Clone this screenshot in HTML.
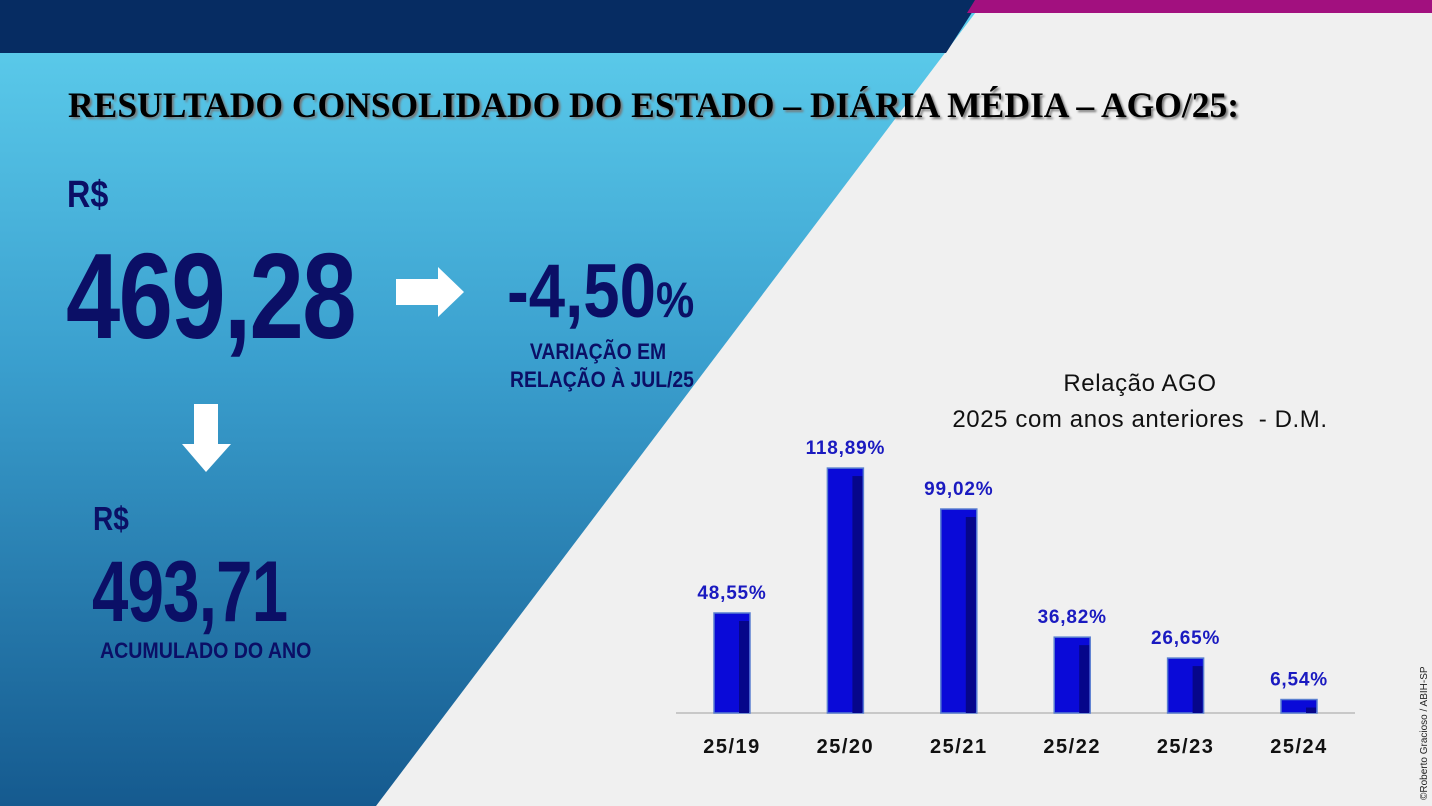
<!DOCTYPE html>
<html><head><meta charset="utf-8"><style>
body{margin:0;width:1432px;height:806px;overflow:hidden;background:#f0f0f0;position:relative;font-family:"Liberation Sans",sans-serif}
.a{position:absolute;white-space:nowrap}
.n{font-family:"Liberation Sans",sans-serif;font-weight:bold;color:#0b0f66;transform-origin:0 0}
</style></head><body>
<svg class="a" style="left:0;top:0" width="1432" height="806">
<defs><linearGradient id="g" x1="0" y1="0" x2="0" y2="1"><stop offset="0" stop-color="#5fd0ee"/><stop offset="0.45" stop-color="#3a9fce"/><stop offset="1" stop-color="#155a8f"/></linearGradient></defs>
<polygon points="0,0 985,0 376,806 0,806" fill="url(#g)"/>
<polygon points="0,0 980,0 946,53 0,53" fill="#062c62"/>
<polygon points="975,0 1432,0 1432,13 967,13" fill="#a2107f"/>
</svg>
<div class="a" style="left:68px;top:84px;font:bold 35.5px 'Liberation Serif',serif;color:#000;text-shadow:2px 2px 2px #777">RESULTADO CONSOLIDADO DO ESTADO – DIÁRIA MÉDIA – AGO/25:</div>
<div class="a n" style="left:67px;top:174px;font-size:38px;transform:scaleX(0.85)">R$</div>
<div class="a n" style="left:66px;top:226px;font-size:122px;letter-spacing:-2px;transform:scaleX(0.8)">469,28</div>
<svg class="a" style="left:396px;top:267px" width="70" height="50"><polygon points="0,12 42,12 42,0 68,25 42,50 42,38 0,38" fill="#fff"/></svg>
<div class="a n" style="left:507px;top:248px;font-size:76px;transform:scaleX(0.86)">-4,50<span style="font-size:50px">%</span></div>
<div class="a n" style="left:510px;top:338px;width:200px;text-align:center;font-size:22px;line-height:28px;transform:scaleX(0.88)">VARIAÇÃO EM<br>RELAÇÃO À JUL/25</div>
<svg class="a" style="left:182px;top:404px" width="50" height="70"><polygon points="12,0 36,0 36,40 49,40 24,68 0,40 12,40" fill="#fff"/></svg>
<div class="a n" style="left:93px;top:500px;font-size:33px;transform:scaleX(0.85)">R$</div>
<div class="a n" style="left:92px;top:543px;font-size:86px;letter-spacing:-1px;transform:scaleX(0.76)">493,71</div>
<div class="a n" style="left:100px;top:638px;font-size:22px;transform:scaleX(0.89)">ACUMULADO DO ANO</div>
<div class="a" style="left:900px;top:366px;width:480px;text-align:center;font-size:24px;letter-spacing:0.6px;line-height:36px;color:#111">Relação AGO<br>2025 com anos anteriores &nbsp;- D.M.</div>
<svg id="chart" class="a" style="left:0;top:0" width="1432" height="806"></svg>
<div class="a" style="left:1419px;top:800px;transform:rotate(-90deg);transform-origin:0 0;font-size:10px;color:#222">©Roberto Gracioso / ABIH-SP</div>
<script>
const categories=["25/19","25/20","25/21","25/22","25/23","25/24"];
const values=[48.55,118.89,99.02,36.82,26.65,6.54];
const labels=["48,55%","118,89%","99,02%","36,82%","26,65%","6,54%"];
const svg=document.getElementById('chart');const NS='http://www.w3.org/2000/svg';
const base=713,scale=2.06,x0=732,step=113.4,bw=36;
const xs=i=>x0+i*step, ys=v=>base-v*scale;
function mk(t,a){const e=document.createElementNS(NS,t);for(const k in a)e.setAttribute(k,a[k]);svg.appendChild(e);return e;}
const ax=mk('line',{x1:676,x2:1355,y1:base,y2:base,stroke:'#c8c8c8','stroke-width':2});


values.forEach((v,i)=>{
 const cx=xs(i),top=ys(v);
 const r=mk('rect',{x:cx-bw/2,y:top,width:bw,height:base-top,fill:'#0a0ad8',stroke:'#5a7fd0','stroke-width':1.5});
 
 
 const s=mk('rect',{x:cx+bw/2-11,y:top+8,width:10,height:Math.max(0,base-top-8),fill:'#06068a'});
 
 
 const l=mk('text',{x:cx,y:top-14,'text-anchor':'middle','font-size':19,'letter-spacing':0.8,'font-weight':'bold',fill:'#1a1ac0','font-family':'Liberation Sans, sans-serif'});
 l.textContent=labels[i];
 
 
 const c=mk('text',{x:cx,y:753,'text-anchor':'middle','font-size':20,'letter-spacing':1.5,'font-weight':'bold',fill:'#111','font-family':'Liberation Sans, sans-serif'});
 c.textContent=categories[i];
 
 
});
</script>
</body></html>
